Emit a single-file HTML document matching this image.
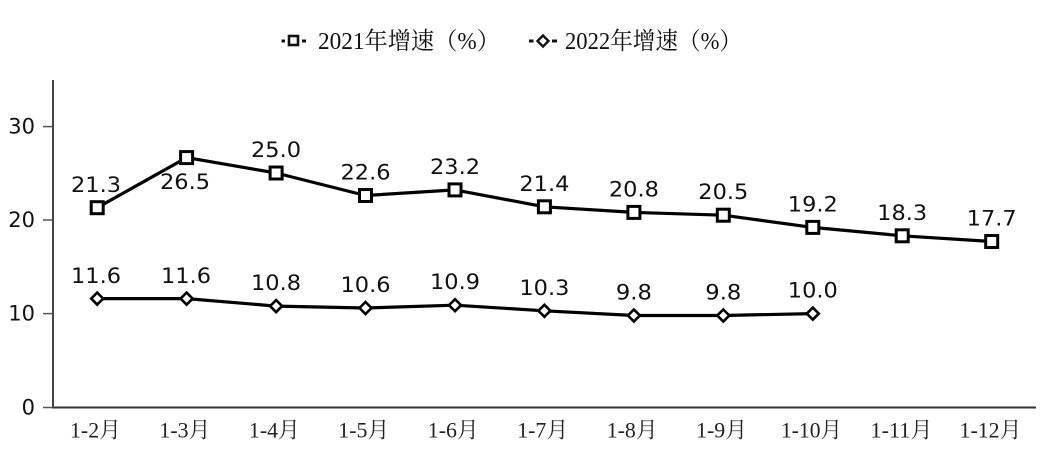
<!DOCTYPE html>
<html>
<head>
<meta charset="utf-8">
<style>
  html,body{margin:0;padding:0;background:#fff;}
  svg{display:block;}
  .lbl{font-family:"DejaVu Sans","Liberation Sans",sans-serif;font-size:21px;fill:#111;text-anchor:middle;}
  .ytk{font-family:"DejaVu Sans","Liberation Sans",sans-serif;font-size:21px;fill:#111;text-anchor:end;}
  .xtk{font-family:"Liberation Serif","Noto Serif CJK SC",serif;font-size:22px;fill:#222;}
  .leg{font-family:"Liberation Serif","Noto Serif CJK SC",serif;font-size:24px;fill:#111;}
</style>
</head>
<body>
<svg width="1040" height="453" viewBox="0 0 1040 453" xmlns="http://www.w3.org/2000/svg">
  <!-- Legend -->
  <g>
    <rect x="281.5" y="39.5" width="3.5" height="3" fill="#111"/>
    <rect x="289" y="36" width="9" height="9" fill="#fff" stroke="#111" stroke-width="2.6"/>
    <rect x="302" y="39.5" width="4" height="3" fill="#111"/>
    <text class="leg" x="318" y="49" textLength="182" lengthAdjust="spacingAndGlyphs">2021年增速（%）</text>

    <rect x="529" y="39.5" width="4.5" height="3" fill="#111"/>
    <polygon points="543,35.5 548.5,41 543,46.5 537.5,41" fill="#fff" stroke="#111" stroke-width="2.4"/>
    <rect x="552" y="39.5" width="5" height="3" fill="#111"/>
    <text class="leg" x="565" y="49" textLength="177" lengthAdjust="spacingAndGlyphs">2022年增速（%）</text>
  </g>

  <!-- Axes -->
  <line x1="53" y1="80" x2="53" y2="408.5" stroke="#444" stroke-width="2"/>
  <line x1="52" y1="407.5" x2="1036" y2="407.5" stroke="#333" stroke-width="2"/>
  <g stroke="#555" stroke-width="1.5">
    <line x1="43" y1="407.5" x2="53" y2="407.5"/>
    <line x1="43" y1="313.6" x2="53" y2="313.6"/>
    <line x1="43" y1="220" x2="53" y2="220"/>
    <line x1="43" y1="126.6" x2="53" y2="126.6"/>
  </g>
  <g>
    <text class="ytk" x="35" y="414.5">0</text>
    <text class="ytk" x="35" y="320.6">10</text>
    <text class="ytk" x="35" y="227">20</text>
    <text class="ytk" x="35" y="133.6">30</text>
  </g>

  <!-- X tick labels -->
  <g>
    <text class="xtk" x="70" y="437.5" textLength="51" lengthAdjust="spacingAndGlyphs">1-2月</text>
    <text class="xtk" x="159.4" y="437.5" textLength="51" lengthAdjust="spacingAndGlyphs">1-3月</text>
    <text class="xtk" x="248.9" y="437.5" textLength="51" lengthAdjust="spacingAndGlyphs">1-4月</text>
    <text class="xtk" x="338.3" y="437.5" textLength="51" lengthAdjust="spacingAndGlyphs">1-5月</text>
    <text class="xtk" x="427.8" y="437.5" textLength="51" lengthAdjust="spacingAndGlyphs">1-6月</text>
    <text class="xtk" x="517.2" y="437.5" textLength="51" lengthAdjust="spacingAndGlyphs">1-7月</text>
    <text class="xtk" x="606.7" y="437.5" textLength="51" lengthAdjust="spacingAndGlyphs">1-8月</text>
    <text class="xtk" x="696.1" y="437.5" textLength="51" lengthAdjust="spacingAndGlyphs">1-9月</text>
    <text class="xtk" x="781" y="437.5" textLength="61" lengthAdjust="spacingAndGlyphs">1-10月</text>
    <text class="xtk" x="870.5" y="437.5" textLength="62" lengthAdjust="spacingAndGlyphs">1-11月</text>
    <text class="xtk" x="959.5" y="437.5" textLength="62" lengthAdjust="spacingAndGlyphs">1-12月</text>
  </g>

  <!-- 2021 series -->
  <polyline fill="none" stroke="#000" stroke-width="3.2" stroke-linejoin="round"
    points="97.2,207.7 186.6,157.6 276.1,173.0 365.5,195.5 455.0,189.9 544.4,206.8 633.9,212.4 723.3,215.2 812.8,227.4 902.2,235.8 991.7,241.5"/>
  <g fill="#fff" stroke="#000" stroke-width="3">
    <rect x="91.2" y="201.7" width="12" height="12"/>
    <rect x="180.6" y="151.6" width="12" height="12"/>
    <rect x="270.1" y="167.0" width="12" height="12"/>
    <rect x="359.5" y="189.5" width="12" height="12"/>
    <rect x="449.0" y="183.9" width="12" height="12"/>
    <rect x="538.4" y="200.8" width="12" height="12"/>
    <rect x="627.9" y="206.4" width="12" height="12"/>
    <rect x="717.3" y="209.2" width="12" height="12"/>
    <rect x="806.8" y="221.4" width="12" height="12"/>
    <rect x="896.2" y="229.8" width="12" height="12"/>
    <rect x="985.7" y="235.5" width="12" height="12"/>
  </g>
  <g>
    <text class="lbl" x="96" y="192" textLength="50" lengthAdjust="spacingAndGlyphs">21.3</text>
    <text class="lbl" x="185" y="189" textLength="50" lengthAdjust="spacingAndGlyphs">26.5</text>
    <text class="lbl" x="276" y="157" textLength="50" lengthAdjust="spacingAndGlyphs">25.0</text>
    <text class="lbl" x="365.5" y="179.5" textLength="50" lengthAdjust="spacingAndGlyphs">22.6</text>
    <text class="lbl" x="455" y="174" textLength="50" lengthAdjust="spacingAndGlyphs">23.2</text>
    <text class="lbl" x="544.4" y="191" textLength="50" lengthAdjust="spacingAndGlyphs">21.4</text>
    <text class="lbl" x="633.9" y="196.5" textLength="50" lengthAdjust="spacingAndGlyphs">20.8</text>
    <text class="lbl" x="723.3" y="199" textLength="50" lengthAdjust="spacingAndGlyphs">20.5</text>
    <text class="lbl" x="812.8" y="211.5" textLength="50" lengthAdjust="spacingAndGlyphs">19.2</text>
    <text class="lbl" x="902.2" y="220" textLength="50" lengthAdjust="spacingAndGlyphs">18.3</text>
    <text class="lbl" x="991.7" y="225.5" textLength="50" lengthAdjust="spacingAndGlyphs">17.7</text>
  </g>

  <!-- 2022 series -->
  <polyline fill="none" stroke="#000" stroke-width="3.2" stroke-linejoin="round"
    points="97.2,298.6 186.6,298.6 276.1,306.1 365.5,308.0 455.0,305.2 544.4,310.8 633.9,315.5 723.3,315.5 812.8,313.6"/>
  <g fill="#fff" stroke="#000" stroke-width="2.6">
    <polygon points="97.2,292.6 103.2,298.6 97.2,304.6 91.2,298.6"/>
    <polygon points="186.6,292.6 192.6,298.6 186.6,304.6 180.6,298.6"/>
    <polygon points="276.1,300.1 282.1,306.1 276.1,312.1 270.1,306.1"/>
    <polygon points="365.5,302.0 371.5,308.0 365.5,314.0 359.5,308.0"/>
    <polygon points="455.0,299.2 461.0,305.2 455.0,311.2 449.0,305.2"/>
    <polygon points="544.4,304.8 550.4,310.8 544.4,316.8 538.4,310.8"/>
    <polygon points="633.9,309.5 639.9,315.5 633.9,321.5 627.9,315.5"/>
    <polygon points="723.3,309.5 729.3,315.5 723.3,321.5 717.3,315.5"/>
    <polygon points="812.8,307.6 818.8,313.6 812.8,319.6 806.8,313.6"/>
  </g>
  <g>
    <text class="lbl" x="96" y="283" textLength="50" lengthAdjust="spacingAndGlyphs">11.6</text>
    <text class="lbl" x="186" y="283" textLength="50" lengthAdjust="spacingAndGlyphs">11.6</text>
    <text class="lbl" x="276" y="290" textLength="50" lengthAdjust="spacingAndGlyphs">10.8</text>
    <text class="lbl" x="365.5" y="292" textLength="50" lengthAdjust="spacingAndGlyphs">10.6</text>
    <text class="lbl" x="455" y="289" textLength="50" lengthAdjust="spacingAndGlyphs">10.9</text>
    <text class="lbl" x="544.4" y="295" textLength="50" lengthAdjust="spacingAndGlyphs">10.3</text>
    <text class="lbl" x="633.9" y="299.5" textLength="36" lengthAdjust="spacingAndGlyphs">9.8</text>
    <text class="lbl" x="723.3" y="299.5" textLength="36" lengthAdjust="spacingAndGlyphs">9.8</text>
    <text class="lbl" x="812.8" y="297.5" textLength="50" lengthAdjust="spacingAndGlyphs">10.0</text>
  </g>
</svg>
</body>
</html>
